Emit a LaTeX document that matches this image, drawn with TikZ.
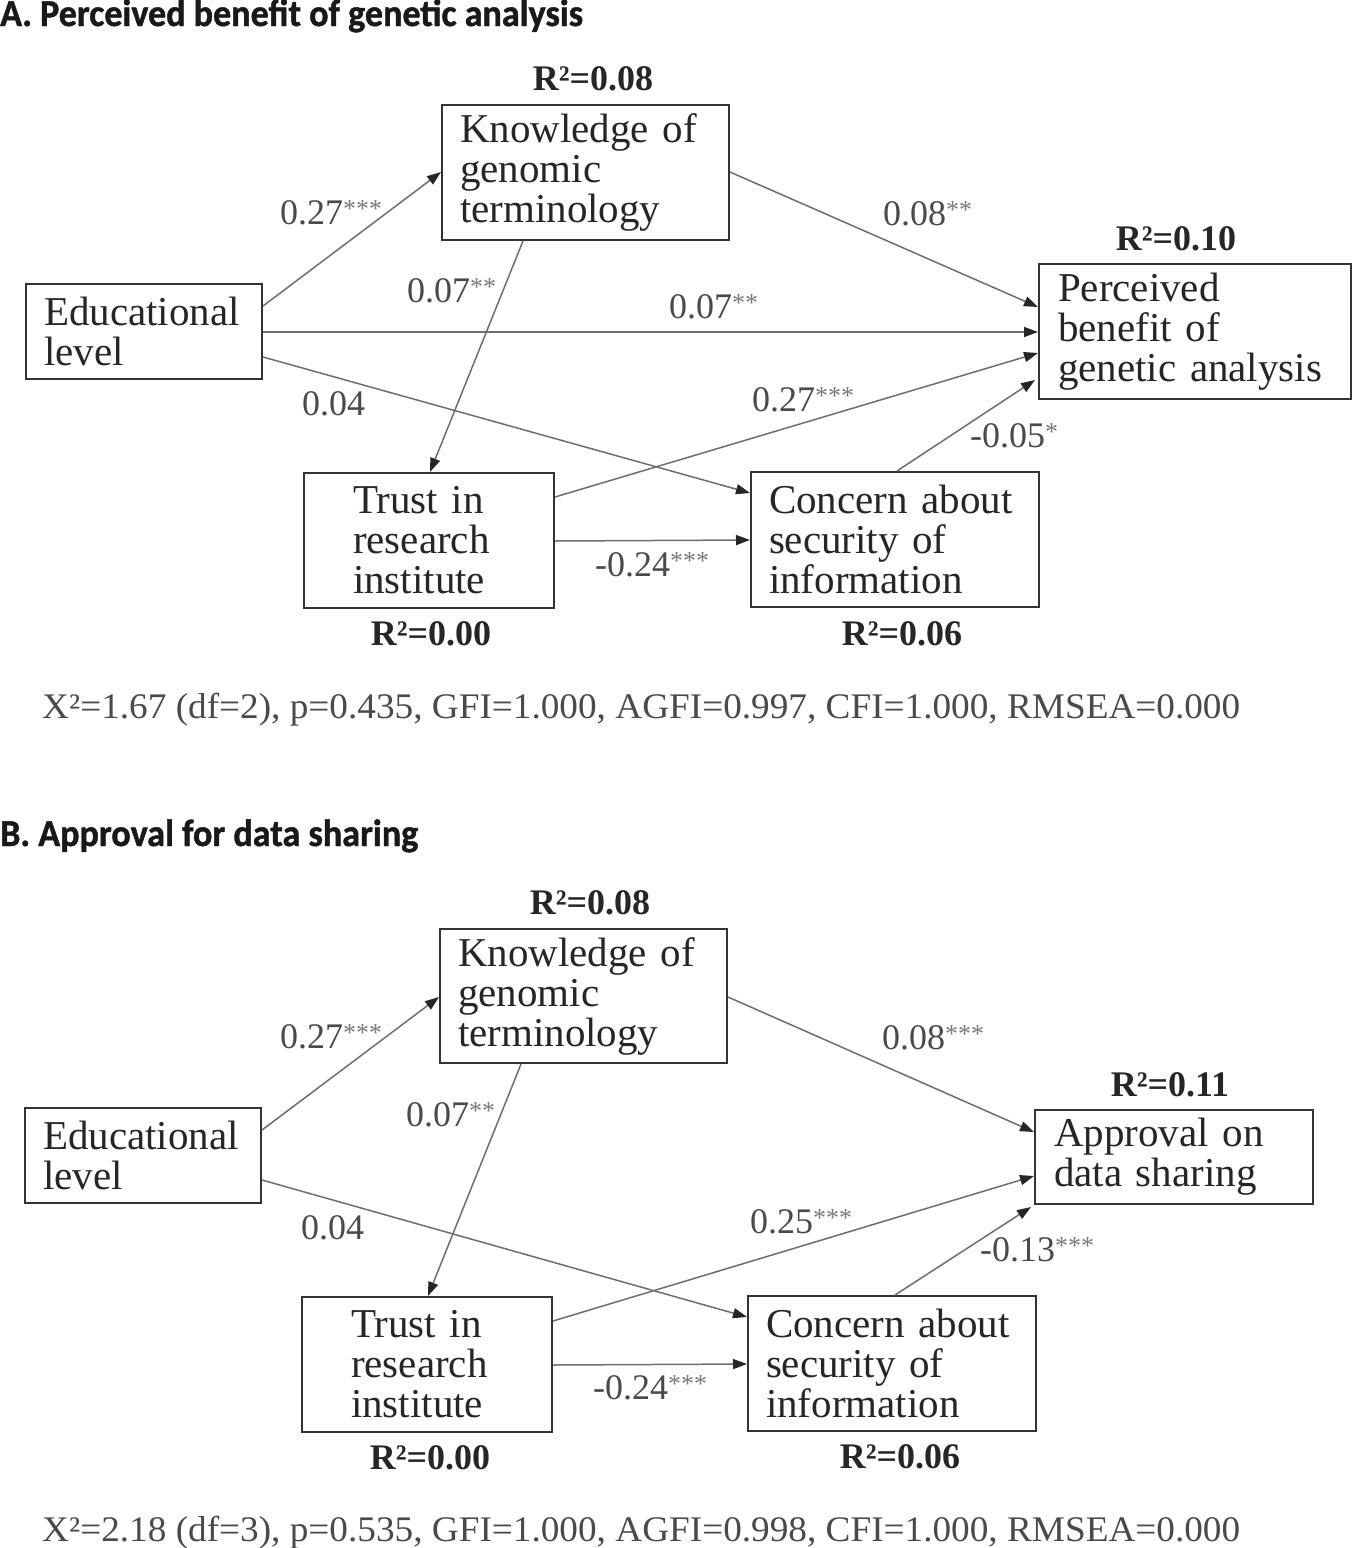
\documentclass[tikz,border=0pt]{standalone}
\usepackage{fontspec}
\usepackage{graphicx}
\setmainfont{Liberation Serif}
\newfontfamily\titlefont{Carlito}[BoldFeatures={FakeBold=1.2}]
\usetikzlibrary{arrows.meta,calc}
\lefthyphenmin=64
\definecolor{linec}{HTML}{6E6E6E}
\definecolor{boxc}{HTML}{333333}
\definecolor{txtc}{HTML}{262626}
\definecolor{labc}{HTML}{4A4A4A}
\definecolor{starc}{HTML}{7A7A7A}
\newcommand\sig[1]{\textcolor{starc}{\raisebox{7pt}{\fontsize{26}{26}\selectfont#1}}}
\tikzset{
  box/.style={draw=boxc, line width=2pt, rectangle, inner ysep=0pt, align=left,
    text=txtc, font=\fontsize{41}{40}\selectfont, anchor=north west},
  conn/.style={draw=linec, line width=1.5pt, -{Triangle[length=14pt,width=10pt,color=black!85]}},
  lab/.style={text=labc, font=\fontsize{36}{36}\selectfont, anchor=base west, inner sep=0pt},
  rsq/.style={text=txtc, font=\fontsize{36}{36}\selectfont\bfseries, anchor=base, inner sep=0pt},
  ttl/.style={text=black!90, font=\titlefont\bfseries\fontsize{38}{38}\selectfont, anchor=base west, inner sep=0pt},
  fit/.style={text=labc, font=\fontsize{36}{36}\selectfont, anchor=base west, inner sep=0pt}
}
\begin{document}
\begin{tikzpicture}[x=1pt,y=-1pt]
\useasboundingbox (0,0) rectangle (1353,1548);
\fill[white] (0,0) rectangle (1353,1548);

% ---------------- Panel A ----------------
\node[ttl] (tA) at (0,26) {\resizebox{583pt}{\height}{A. Perceived benefit of genetic analysis}};

\node[box, minimum height=135pt, inner xsep=18pt, text width=251pt] (knowA) at (441,104) {Knowledge of\\genomic\\terminology};
\node[box, minimum height=95pt, inner xsep=18pt, text width=200pt] (eduA) at (25,283) {Educational\\level};
\node[box, minimum height=135pt, inner xsep=19pt, text width=274pt] (perA) at (1038,263) {Perceived\\benefit of\\genetic analysis};
\node[box, minimum height=135pt, inner xsep=49pt, text width=152pt] (trustA) at (303,472) {Trust in\\research\\institute};
\node[box, minimum height=135pt, inner xsep=18pt, text width=252pt] (concA) at (750,471) {Concern about\\security of\\information};

\node[rsq] (rA1) at (593,90) {R²=0.08};
\node[rsq] (rA2) at (1176,250) {R²=0.10};
\node[rsq] (rA3) at (431,645) {R²=0.00};
\node[rsq] (rA4) at (902,645) {R²=0.06};

\draw[conn] ($(eduA.north east)+(0,23)$) -- ($(knowA.north west)+(0,68)$);
\draw[conn] ($(knowA.south west)+(82,0)$) -- ($(trustA.north west)+(127,0)$);
\draw[conn] ($(knowA.north east)+(0,68)$) -- ($(perA.north west)+(0,44)$);
\draw[conn] ($(eduA.north east)+(0,49)$) -- ($(perA.north west)+(0,69)$);
\draw[conn] ($(eduA.north east)+(0,74)$) -- ($(concA.north west)+(0,22)$);
\draw[conn] ($(trustA.north east)+(0,25)$) -- ($(perA.north west)+(0,90)$);
\draw[conn] ($(trustA.north east)+(0,69)$) -- ($(concA.north west)+(0,69)$);
\draw[conn] ($(concA.north west)+(147,0)$) -- ($(perA.north west)+(-3,117)$);

\node[lab] (lA1) at (280,224) {0.27\sig{***}};
\node[lab] (lA2) at (407,302) {0.07\sig{**}};
\node[lab] (lA3) at (883,225) {0.08\sig{**}};
\node[lab] (lA4) at (669,318) {0.07\sig{**}};
\node[lab] (lA5) at (302,415) {0.04};
\node[lab] (lA6) at (752,411) {0.27\sig{***}};
\node[lab] (lA7) at (595,576) {-0.24\sig{***}};
\node[lab] (lA8) at (970,447) {-0.05\sig{*}};

\node[fit] (fA) at (42,718) {\resizebox{1198pt}{\height}{X²=1.67 (df=2), p=0.435, GFI=1.000, AGFI=0.997, CFI=1.000, RMSEA=0.000}};

% ---------------- Panel B ----------------
\node[ttl] (tB) at (0,846) {\resizebox{418pt}{\height}{B. Approval for data sharing}};

\node[box, minimum height=134pt, inner xsep=18pt, text width=251pt] (knowB) at (439,928) {Knowledge of\\genomic\\terminology};
\node[box, minimum height=95pt, inner xsep=18pt, text width=200pt] (eduB) at (24,1107) {Educational\\level};
\node[box, minimum height=94pt, inner xsep=19pt, text width=240pt] (appB) at (1034,1109) {Approval on\\data sharing};
\node[box, minimum height=135pt, inner xsep=49pt, text width=152pt] (trustB) at (301,1296) {Trust in\\research\\institute};
\node[box, minimum height=135pt, inner xsep=18pt, text width=252pt] (concB) at (747,1295) {Concern about\\security of\\information};

\node[rsq] (rB1) at (590,914) {R²=0.08};
\node[rsq] (rB2) at (1170,1096) {R²=0.11};
\node[rsq] (rB3) at (430,1469) {R²=0.00};
\node[rsq] (rB4) at (900,1468) {R²=0.06};

\draw[conn] ($(eduB.north east)+(0,23)$) -- ($(knowB.north west)+(0,69)$);
\draw[conn] ($(knowB.south west)+(82,0)$) -- ($(trustB.north west)+(127,0)$);
\draw[conn] ($(knowB.north east)+(0,69)$) -- ($(appB.north west)+(0,23)$);
\draw[conn] ($(eduB.north east)+(0,73)$) -- ($(concB.north west)+(0,22)$);
\draw[conn] ($(trustB.north east)+(0,25)$) -- ($(appB.north west)+(0,67)$);
\draw[conn] ($(trustB.north east)+(0,69)$) -- ($(concB.north west)+(0,69)$);
\draw[conn] ($(concB.north west)+(148,0)$) -- ($(appB.south west)+(-3,2)$);

\node[lab] (lB1) at (280,1048) {0.27\sig{***}};
\node[lab] (lB2) at (406,1126) {0.07\sig{**}};
\node[lab] (lB3) at (882,1049) {0.08\sig{***}};
\node[lab] (lB5) at (301,1239) {0.04};
\node[lab] (lB6) at (750,1233) {0.25\sig{***}};
\node[lab] (lB7) at (593,1399) {-0.24\sig{***}};
\node[lab] (lB8) at (980,1261) {-0.13\sig{***}};

\node[fit] (fB) at (42,1541) {\resizebox{1198pt}{\height}{X²=2.18 (df=3), p=0.535, GFI=1.000, AGFI=0.998, CFI=1.000, RMSEA=0.000}};
\end{tikzpicture}
\end{document}
